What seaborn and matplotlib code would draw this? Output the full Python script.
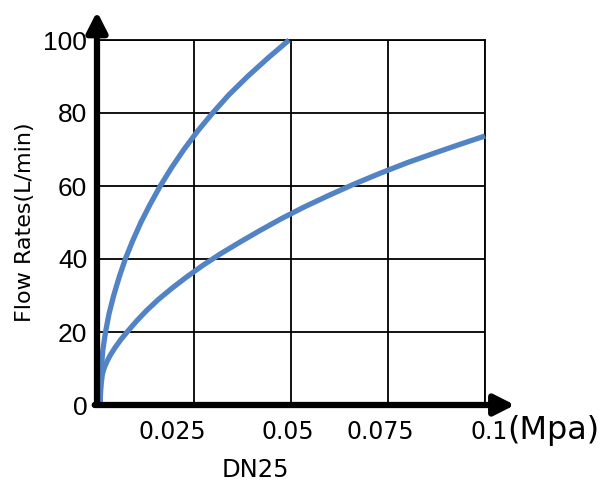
import matplotlib
matplotlib.use("Agg")
import matplotlib.pyplot as plt
import seaborn as sns

# values (pressure in MPa, flow in L/min)
curve_a_x = [0.0008, 0.0008, 0.0011, 0.0015, 0.0022, 0.0031, 0.0043, 0.0057, 0.0073,
             0.0092, 0.0113, 0.0137, 0.0163, 0.0192, 0.0224, 0.0259, 0.0298, 0.0340,
             0.0388, 0.0440, 0.0495]
curve_a_y = [0, 5, 10, 15, 20, 25, 30, 35, 40,
             45, 50, 55, 60, 65, 70, 75, 80, 85,
             90, 95, 100]
curve_b_x = [0.0008, 0.0009, 0.0011, 0.0014, 0.0019, 0.0026, 0.0035, 0.0047, 0.0062,
             0.0080, 0.0102, 0.0128, 0.0158, 0.0192, 0.0230, 0.0272, 0.0318, 0.0368,
             0.0420, 0.0476, 0.0535, 0.0597, 0.0662, 0.0730, 0.0800, 0.0872, 0.0935,
             0.1000]
curve_b_y = [0, 3, 6, 8.5, 10.3, 12, 13.8, 15.8, 18,
             20.3, 23, 25.9, 28.9, 31.9, 35, 38.2, 41.4, 44.6,
             47.8, 51.1, 54.3, 57.4, 60.5, 63.5, 66.4, 69.1, 71.4,
             73.7]

x_grid = [0.025, 0.05, 0.075, 0.1]
y_ticks = [0, 20, 40, 60, 80, 100]
x_labels = ["0.025", "0.05", "0.075", "0.1"]
x_label_pos = [0.0193, 0.0492, 0.0730, 0.1010]

sns.set_style("white")
plt.rcParams['font.family'] = ['DejaVu Sans']
plt.rcParams['text.color'] = 'black'

fig = plt.figure(figsize=(6, 4.94), dpi=100)
ax = fig.add_axes([97 / 600, 1 - 405 / 494, 388 / 600, 365 / 494])

blue = '#5283c4'
for xs, ys in [(curve_a_x, curve_a_y), (curve_b_x, curve_b_y)]:
    sns.lineplot(x=xs, y=ys, ax=ax, color=blue, lw=3.8, sort=False,
                 estimator=None, clip_on=False, zorder=5,
                 solid_joinstyle='round', solid_capstyle='butt')

ax.set_xlim(0, 0.1)
ax.set_ylim(0, 100)
ax.set_xticks(x_grid)
ax.set_yticks(y_ticks)
ax.grid(True, color='black', lw=1.3)
ax.tick_params(axis='both', length=0)
ax.tick_params(axis='x', labelbottom=False)
ax.tick_params(axis='y', labelsize=19, pad=7, colors='black')
for t in ax.get_yticklabels():
    t.set_family('Liberation Sans')

for side in ['top', 'right']:
    ax.spines[side].set_color('black')
    ax.spines[side].set_linewidth(1.3)
for side in ['left', 'bottom']:
    ax.spines[side].set_visible(False)

# thick axes with arrow heads
arrow = dict(arrowstyle='-|>,head_length=0.55,head_width=0.28', lw=4.5,
             color='black', mutation_scale=22, shrinkA=0, shrinkB=0)
ax.annotate('', xy=(0, 1.078), xytext=(0, 0), xycoords='axes fraction',
            arrowprops=arrow, annotation_clip=False, zorder=6)
ax.annotate('', xy=(1.077, 0), xytext=(-0.006, 0), xycoords='axes fraction',
            arrowprops=arrow, annotation_clip=False, zorder=6)

for pos, lab in zip(x_label_pos, x_labels):
    ax.text(pos, -7.4, lab, ha='center', va='center', fontsize=17, clip_on=False)
ax.text(0.1058, -7.0, "(Mpa)", ha='left', va='center', fontsize=23, clip_on=False)
ax.text(0.0407, -17.8, "DN25", ha='center', va='center', fontsize=17.5, clip_on=False)

fig.text(25 / 600, 1 - 222 / 494, "Flow Rates(L/min)", rotation=90,
         ha='center', va='center', fontsize=16)

fig.savefig("out.png", dpi=100)
